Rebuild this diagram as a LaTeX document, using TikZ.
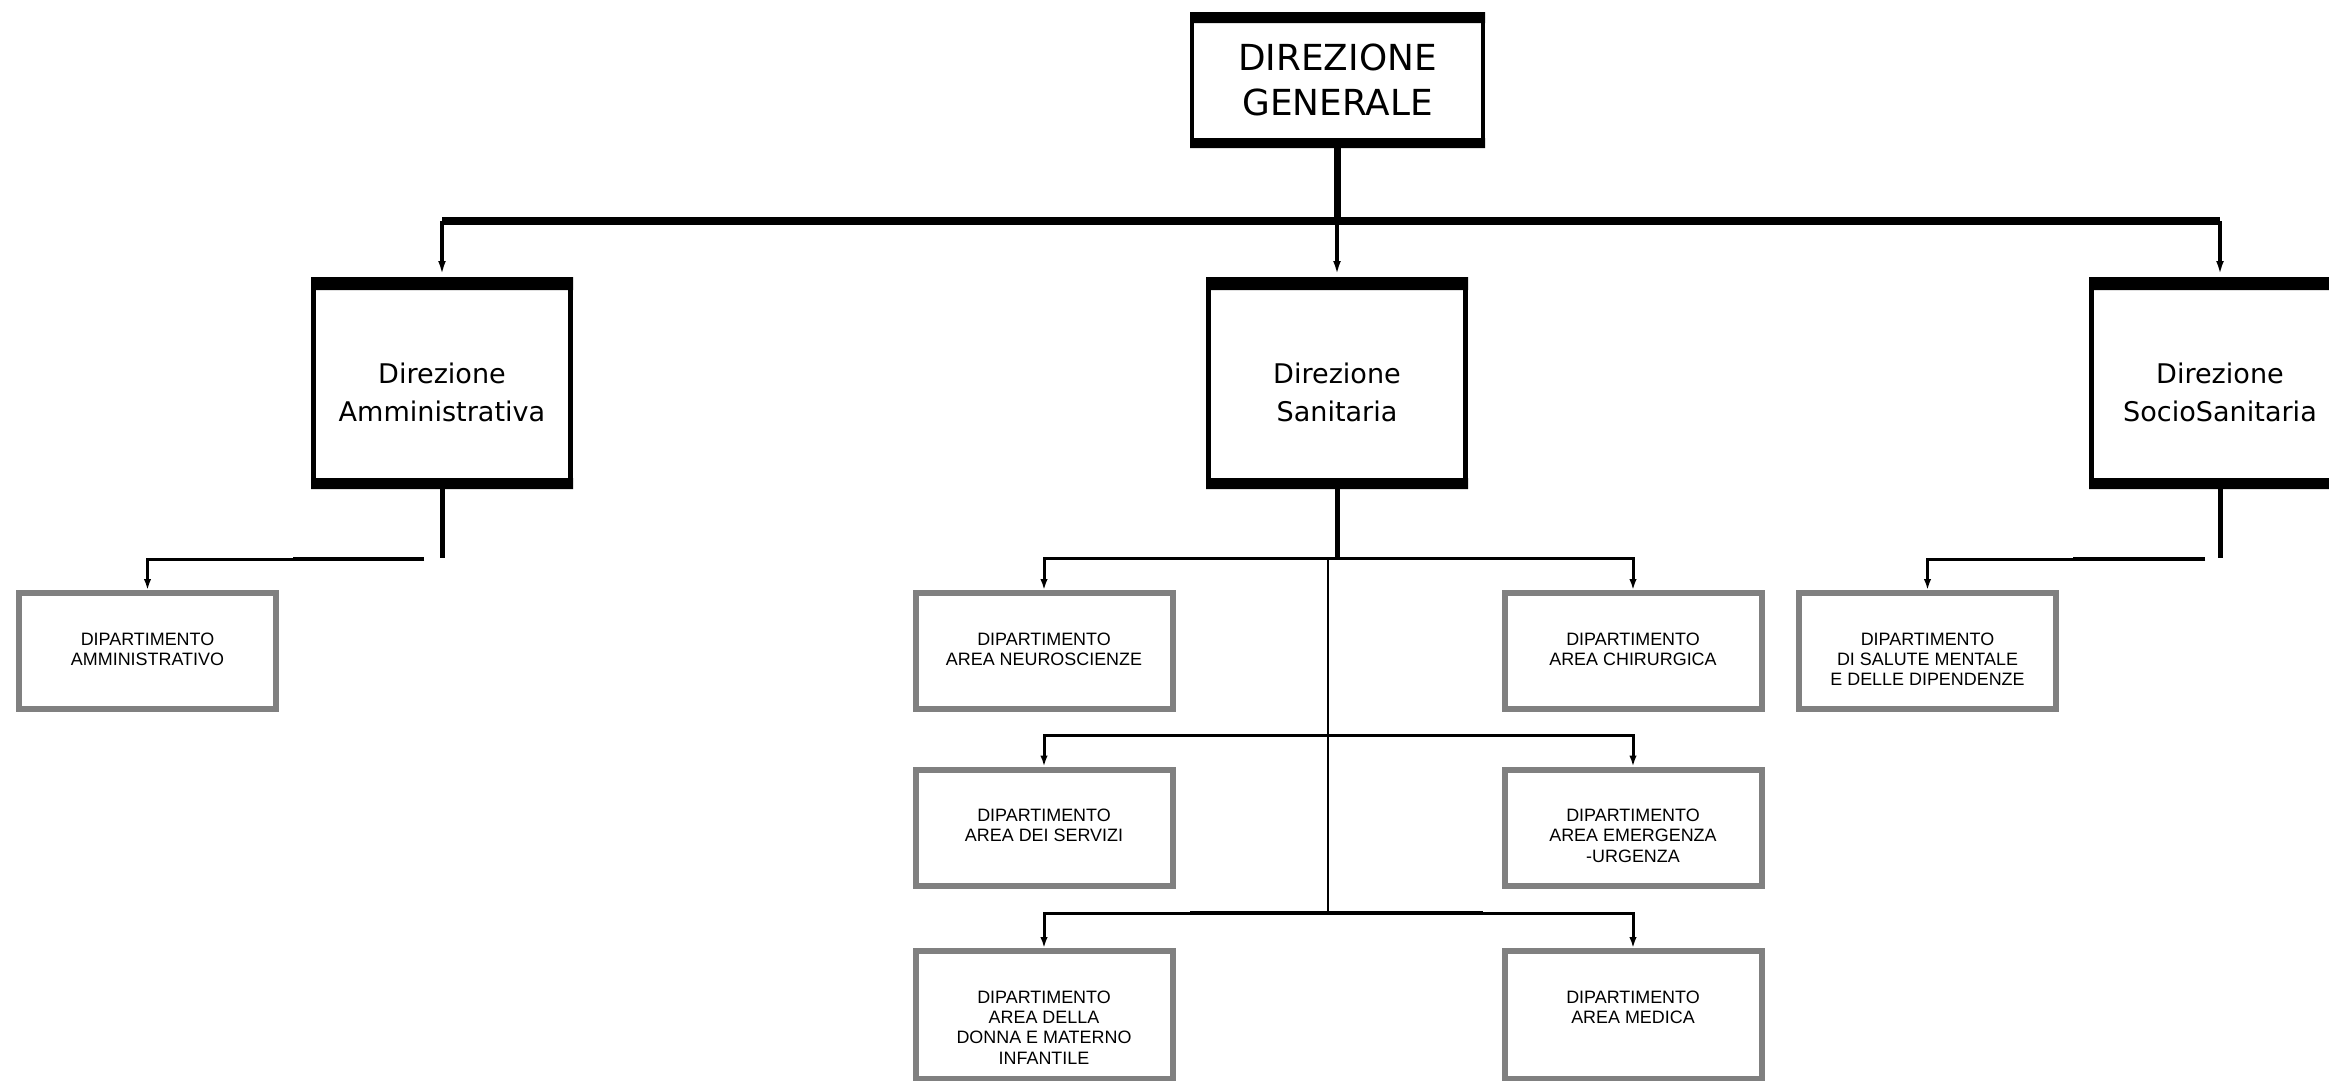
\documentclass[tikz,border=0pt]{standalone}
\usepackage{fontspec}
\usetikzlibrary{arrows.meta}
\newfontfamily\dirfamily{DejaVu Sans}
\newfontfamily\deptfamily{Liberation Sans}
\definecolor{deptgray}{RGB}{128,128,128}
\newcommand{\depttext}[2][11.6mm]{\parbox[c][#1][t]{25mm}{\centering\rule{0pt}{5.2mm}#2}}

\tikzset{
  topbox/.style={draw, line width=0.4mm, inner sep=0pt, minimum width=29.1mm,
    minimum height=13.2mm, align=center, font=\dirfamily\fontsize{10.2}{12.8}\selectfont},
  dirbox/.style={draw, line width=0.5mm, inner sep=0pt, minimum width=25.7mm,
    minimum height=20.7mm, align=center, font=\dirfamily\fontsize{7.7}{10.8}\selectfont},
  deptbox/.style={draw=deptgray, line width=0.6mm, inner sep=0pt, minimum width=25.7mm,
    minimum height=11.6mm, font=\deptfamily\fontsize{5.1}{5.8}\selectfont},
  bar/.style={line width=0.8mm},
  stem/.style={line width=0.5mm},
  thickrun/.style={line width=0.45mm},
  spine/.style={line width=0.2mm},
  toparrow/.style={line width=0.35mm, -{Latex[length=1.6mm,width=0.75mm]}},
  deptarrow/.style={line width=0.3mm, -{Latex[length=1.1mm,width=0.75mm]}}
}

\begin{document}
\begin{tikzpicture}[x=0.1mm, y=-0.1mm]
  \useasboundingbox (0,0) rectangle (2329,1081);

  \node[topbox] (dg) at (1337.5,80) {DIREZIONE\\GENERALE};

  \node[dirbox] (da) at (442,383) {\rule{0pt}{4mm}Direzione\\Amministrativa};
  \node[dirbox] (ds) at (1337,383) {\rule{0pt}{4mm}Direzione\\Sanitaria};
  \node[dirbox] (dss) at (2220,383) {\rule{0pt}{4mm}Direzione\\SocioSanitaria};

  \fill (dg.north west) rectangle ([yshift=-1.1mm]dg.north east)
    (dg.south west) rectangle ([yshift=1mm]dg.south east);
  \foreach \n in {da,ds,dss}
    \fill (\n.north west) rectangle ([yshift=-1.3mm]\n.north east)
      (\n.south west) rectangle ([yshift=1.1mm]\n.south east);

  \node[deptbox] (dam) at (147.5,651) {\depttext{DIPARTIMENTO\\AMMINISTRATIVO}};
  \node[deptbox] (neuro) at (1044,651) {\depttext{DIPARTIMENTO\\AREA NEUROSCIENZE}};
  \node[deptbox] (chir) at (1633,651) {\depttext{DIPARTIMENTO\\AREA CHIRURGICA}};
  \node[deptbox] (serv) at (1044,827.5) {\depttext{DIPARTIMENTO\\AREA DEI SERVIZI}};
  \node[deptbox] (emerg) at (1633,827.5) {\depttext{DIPARTIMENTO\\AREA EMERGENZA\\-URGENZA}};
  \node[deptbox, minimum height=12.8mm] (donna) at (1044,1015)
    {\depttext[12.8mm]{DIPARTIMENTO\\AREA DELLA\\DONNA E MATERNO\\INFANTILE}};
  \node[deptbox, minimum height=12.8mm] (medica) at (1633,1015)
    {\depttext[12.8mm]{DIPARTIMENTO\\AREA MEDICA}};
  \node[deptbox] (salute) at (1927.5,651) {\depttext{DIPARTIMENTO\\DI SALUTE MENTALE\\E DELLE DIPENDENZE}};

  \coordinate (barL) at (442,221);
  \coordinate (barR) at (2220,221);
  \draw[stem, line width=0.65mm] (dg.south) -- (dg.south |- barL);
  \draw[bar] (barL) -- (barR);
  \foreach \n in {da,ds,dss}
    \draw[toparrow] (\n.north |- barL) -- (\n.north);

  \coordinate (daS) at (442,558);
  \coordinate (daL) at (424,559);
  \coordinate (daM) at (293,559);
  \draw[stem] (da.south) -- (daS);
  \draw[deptarrow] (daL) -| (dam.north);
  \draw[thickrun] (daL) -- (daM);

  \coordinate (dsS) at (1337,558);
  \coordinate (sp1) at (1328,558);
  \coordinate (sp2) at (1328,735);
  \coordinate (sp3) at (1328,913);
  \coordinate (b3L) at (1190,913);
  \coordinate (b3R) at (1483,913);
  \draw[stem] (ds.south) -- (dsS);
  \draw[deptarrow] (dsS) -| (neuro.north);
  \draw[deptarrow] (dsS) -| (chir.north);
  \draw[spine] (sp1) -- (sp3);
  \draw[deptarrow] (sp2) -| (serv.north);
  \draw[deptarrow] (sp2) -| (emerg.north);
  \draw[deptarrow] (sp3) -| (donna.north);
  \draw[deptarrow] (sp3) -| (medica.north);
  \draw[thickrun] (b3L) -- (b3R);

  \coordinate (dssS) at (2220,558);
  \coordinate (dssL) at (2205,559);
  \coordinate (dssM) at (2073,559);
  \draw[stem] (dss.south) -- (dssS);
  \draw[deptarrow] (dssL) -| (salute.north);
  \draw[thickrun] (dssL) -- (dssM);
\end{tikzpicture}
\end{document}
